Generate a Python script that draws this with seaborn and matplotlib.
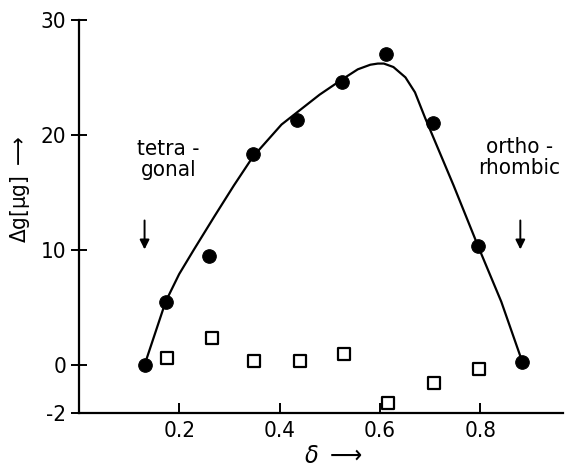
import numpy as np
import pandas as pd
import matplotlib
matplotlib.use("Agg")
import matplotlib.pyplot as plt
import seaborn as sns

# ---- data ----
delta_filled = [0.131, 0.173, 0.259, 0.347, 0.434, 0.524, 0.613, 0.705, 0.796, 0.884]
dg_filled = [0.0, 5.5, 9.5, 18.3, 21.3, 24.6, 27.0, 21.0, 10.3, 0.26]

delta_open = [0.175, 0.265, 0.349, 0.440, 0.528, 0.617, 0.707, 0.798]
dg_open = [0.6, 2.35, 0.35, 0.35, 0.95, -1.6, -0.75, -0.17]

curve_x = [0.131, 0.173, 0.200, 0.229, 0.270, 0.309, 0.347, 0.404, 0.442, 0.480,
           0.524, 0.556, 0.581, 0.596, 0.608, 0.627, 0.651, 0.670, 0.690, 0.747,
           0.796, 0.842, 0.884]
curve_y = [0.0, 5.5, 7.9, 10.0, 12.9, 15.6, 18.1, 20.9, 22.2, 23.5,
           24.8, 25.7, 26.1, 26.2, 26.2, 25.9, 25.0, 23.7, 21.5, 15.6,
           10.3, 5.5, 0.26]

yticks = [-2, 0, 10, 20, 30]
xticks = [0.2, 0.4, 0.6, 0.8]
ytick_labels = ["-2", "0", "10", "20", "30"]
xtick_labels = ["0.2", "0.4", "0.6", "0.8"]

sns.set_style("ticks")
plt.rcParams['font.family'] = ['DejaVu Sans']
plt.rcParams['font.stretch'] = 'condensed'
plt.rcParams['text.color'] = 'black'
plt.rcParams['xtick.color'] = 'black'
plt.rcParams['ytick.color'] = 'black'
plt.rcParams['axes.edgecolor'] = 'black'

fig = plt.figure(figsize=(5.84, 4.73), dpi=100)
ax = fig.add_axes([0.135, 0.127, 0.829, 0.831])

# axis below zero is drawn stretched in the original
K = 2.087
def fwd(y):
    y = np.asarray(y, dtype=float)
    return np.where(y < 0, y * K, y)
def inv(y):
    y = np.asarray(y, dtype=float)
    return np.where(y < 0, y / K, y)
ax.set_yscale('function', functions=(fwd, inv))

df_curve = pd.DataFrame({"x": curve_x, "y": curve_y})
df_f = pd.DataFrame({"x": delta_filled, "y": dg_filled})
df_o = pd.DataFrame({"x": delta_open, "y": dg_open})

sns.lineplot(data=df_curve, x="x", y="y", sort=False, estimator=None,
             color="black", lw=1.6, ax=ax)
sns.scatterplot(data=df_f, x="x", y="y", s=95, color="black", edgecolor="black",
                marker="o", ax=ax, zorder=3)
sns.scatterplot(data=df_o, x="x", y="y", s=85, facecolor="white", edgecolor="black",
                linewidth=1.6, marker="s", ax=ax, zorder=3, clip_on=False)

ax.set_xlim(0, 0.965)
ax.set_ylim(-2, 30)
ax.set_xticks(xticks)
ax.set_xticklabels(xtick_labels)
ax.set_yticks(yticks)
ax.set_yticklabels(ytick_labels)
ax.yaxis.set_minor_locator(matplotlib.ticker.NullLocator())

for s in ["top", "right"]:
    ax.spines[s].set_visible(False)
for s in ["left", "bottom"]:
    ax.spines[s].set_linewidth(1.6)
    ax.spines[s].set_color("black")

ax.tick_params(axis="x", direction="in", length=7, width=1.4, labelsize=16, pad=6)
ax.tick_params(axis="y", direction="inout", length=12, width=1.4, labelsize=16, pad=3)

ax.set_xlabel("")
ax.set_ylabel("")
fig.text(0.57, 0.01, r"$\delta$ $\longrightarrow$", fontsize=18, ha="center", va="bottom")
fig.text(0.034, 0.60, r"Δg[μg] $\longrightarrow$", fontsize=16, rotation=90,
         ha="center", va="center")

ax.text(0.179, 19.6, "tetra -\ngonal", fontsize=16, ha="center", va="top",
        linespacing=1.05)
ax.text(0.878, 19.8, "ortho -\nrhombic", fontsize=16, ha="center", va="top",
        linespacing=1.05)
ax.annotate("", xy=(0.131, 9.8), xytext=(0.131, 12.8),
            arrowprops=dict(arrowstyle="-|>", color="black", lw=1.4,
                            mutation_scale=14))
ax.annotate("", xy=(0.880, 9.8), xytext=(0.880, 12.8),
            arrowprops=dict(arrowstyle="-|>", color="black", lw=1.4,
                            mutation_scale=14))

fig.savefig("out.png", dpi=100)
